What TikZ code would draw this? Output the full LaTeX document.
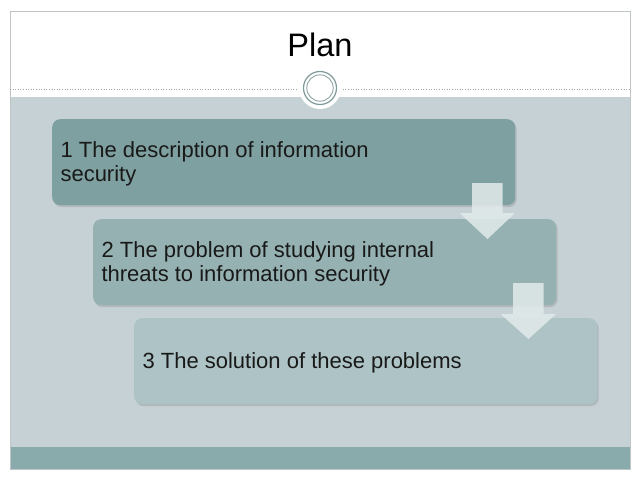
\documentclass[tikz,border=0pt]{standalone}
\usepackage{fontspec}
\setmainfont{Liberation Sans}
\usetikzlibrary{shadows,calc}
\definecolor{bggray}{HTML}{C6D1D6}
\definecolor{band}{HTML}{8AABAB}
\definecolor{frameline}{HTML}{BFC4C4}
\definecolor{boxa}{HTML}{7FA0A0}
\definecolor{boxb}{HTML}{95B1B1}
\definecolor{boxc}{HTML}{AEC3C5}
\definecolor{arrowc}{HTML}{E2EAEA}
\definecolor{ring}{HTML}{7F9A9A}
\tikzset{
  stepbox/.style={rounded corners=8pt, draw=none, minimum width=463pt, minimum height=86pt,
    anchor=north west, inner sep=0pt, drop shadow={shadow xshift=1.5pt, shadow yshift=-2pt, opacity=0.3}},
  steptext/.style={anchor=west, align=left, font=\fontsize{22}{24.5}\selectfont, text=black!90},
  downarrow/.style={fill=arrowc, fill opacity=0.85, draw=none}
}
\begin{document}
\begin{tikzpicture}[x=1pt,y=-1pt]
\useasboundingbox (0,0) rectangle (640,480);
\fill[white] (0,0) rectangle (640,480);
% frame areas
\fill[bggray] (10,97) rectangle (630,447);
\fill[band] (10,447) rectangle (630,469);
\draw[frameline, line width=0.8pt] (10,11) rectangle (630,469);
\draw[gray!70, dotted, line width=0.6pt] (10,89) -- (630,89);
% title
\node (title) at (320,45) {\fontsize{32.5}{36}\selectfont Plan};
% circle ornament
\fill[white] (320,88) circle (21);
\node[circle, draw=ring, line width=1.2pt, minimum size=33pt, inner sep=0pt, fill=white] (orn) at (320,88) {};
\draw[ring, line width=0.8pt] (orn.center) circle (13.2);
% boxes
\node[stepbox, fill=boxa] (b1) at (52,119) {};
\node[stepbox, fill=boxb] (b2) at (93,219) {};
\node[stepbox, fill=boxc] (b3) at (134,318) {};
\node[steptext] (t1) at ([xshift=5pt,yshift=-1.5pt]b1.west) {1 The description of information\\security};
\node[steptext] (t2) at ([xshift=5pt,yshift=-1.5pt]b2.west) {2 The problem of studying internal\\threats to information security};
\node[steptext] (t3) at ([xshift=5pt,yshift=-1.5pt]b3.west) {3 The solution of these problems};
% arrows
\coordinate (a1) at (487.5,183);
\coordinate (a2) at (528.5,283);
\fill[downarrow] ([xshift=-15.5pt]a1) -- ++(0,30) -- ++(-12.5,0) -- ($(a1)+(0,56)$) -- ++(27.5,-26) -- ++(-12.5,0) -- ++(0,-30) -- cycle;
\fill[downarrow] ([xshift=-15.5pt]a2) -- ++(0,31) -- ++(-12.5,0) -- ($(a2)+(0,56)$) -- ++(27.5,-25) -- ++(-12.5,0) -- ++(0,-31) -- cycle;
\end{tikzpicture}
\end{document}
